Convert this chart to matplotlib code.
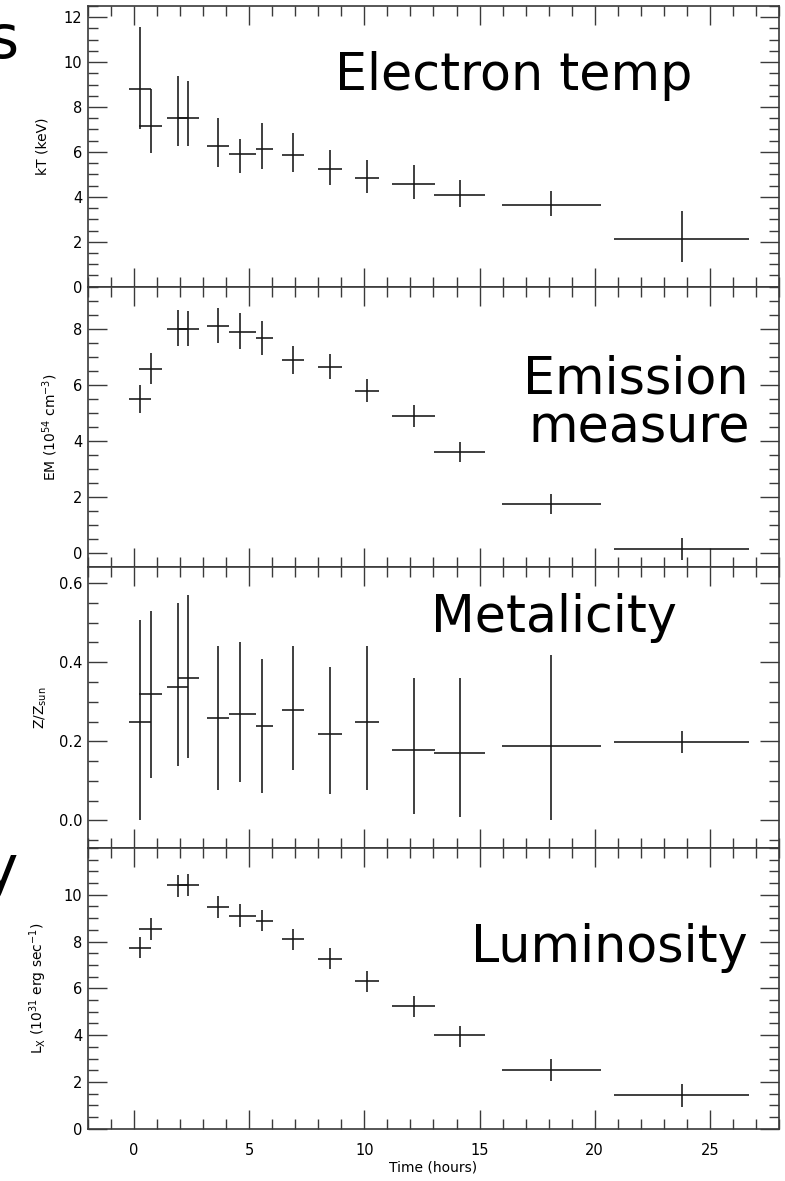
import matplotlib
matplotlib.use("Agg")
import matplotlib.pyplot as plt
from matplotlib.ticker import MultipleLocator, FixedLocator, FormatStrFormatter
import numpy as np

# ---------------- data ----------------
t_center = [0.25, 0.72, 1.89, 2.33, 3.63, 4.59, 5.57, 6.89, 8.51, 10.13, 12.14, 14.14, 18.10, 23.77]
t_lo = [-0.20, 0.23, 1.45, 1.89, 3.15, 4.10, 5.29, 6.41, 7.97, 9.59, 11.21, 13.03, 15.99, 20.82]
t_hi = [0.72, 1.22, 2.33, 2.82, 4.10, 5.29, 6.05, 7.39, 9.01, 10.63, 13.06, 15.25, 20.26, 26.69]

kT = [8.79, 7.16, 7.53, 7.51, 6.27, 5.91, 6.13, 5.87, 5.24, 4.84, 4.59, 4.10, 3.65, 2.12]
kT_lo = [7.02, 5.94, 6.27, 6.27, 5.32, 5.05, 5.23, 5.10, 4.52, 4.19, 3.92, 3.54, 3.14, 1.11]
kT_hi = [11.55, 8.79, 9.37, 9.15, 7.50, 6.58, 7.28, 6.83, 6.10, 5.66, 5.41, 4.74, 4.28, 3.36]

EM = [5.51, 6.55, 8.00, 8.00, 8.10, 7.88, 7.67, 6.88, 6.65, 5.80, 4.90, 3.60, 1.75, 0.15]
EM_lo = [5.00, 6.04, 7.37, 7.39, 7.48, 7.29, 7.07, 6.39, 6.20, 5.40, 4.50, 3.25, 1.40, -0.25]
EM_hi = [6.01, 7.13, 8.67, 8.63, 8.73, 8.55, 8.26, 7.40, 7.10, 6.20, 5.30, 3.95, 2.10, 0.55]

Z = [0.249, 0.320, 0.338, 0.359, 0.259, 0.268, 0.239, 0.278, 0.219, 0.249, 0.178, 0.170, 0.188, 0.198]
Z_lo = [0.000, 0.107, 0.138, 0.158, 0.077, 0.098, 0.068, 0.128, 0.067, 0.077, 0.016, 0.009, 0.000, 0.171]
Z_hi = [0.508, 0.529, 0.549, 0.571, 0.440, 0.450, 0.409, 0.440, 0.389, 0.440, 0.359, 0.359, 0.419, 0.227]

LX = [7.73, 8.54, 10.41, 10.41, 9.48, 9.09, 8.88, 8.09, 7.26, 6.33, 5.26, 3.99, 2.50, 1.42]
LX_lo = [7.29, 8.06, 9.90, 9.93, 9.00, 8.61, 8.44, 7.63, 6.81, 5.85, 4.77, 3.49, 2.04, 0.94]
LX_hi = [8.20, 9.02, 10.83, 10.87, 9.94, 9.59, 9.36, 8.54, 7.72, 6.75, 5.69, 4.41, 2.97, 1.90]

x_ticks = [0, 5, 10, 15, 20, 25]
panel_labels = ["Electron temp", "Emission", "measure", "Metalicity", "Luminosity"]
y_labels = ["kT (keV)", r"EM (10$^{54}$ cm$^{-3}$)", r"Z/Z$_{\rm sun}$",
            r"L$_{\rm X}$ (10$^{31}$ erg sec$^{-1}$)"]

# ---------------- figure ----------------
W, H = 785, 1181
fig = plt.figure(figsize=(W / 100, H / 100), dpi=100)
plt.rcParams['font.family'] = ['DejaVu Sans']
plt.rcParams['mathtext.fontset'] = 'dejavusans'

left_px, right_px = 88, 779
top_px, bot_px = 6, 1128.7
ph = (bot_px - top_px) / 4

panels = [
    (kT, kT_lo, kT_hi, (0, 12.5), [0, 2, 4, 6, 8, 10, 12], 0.5, y_labels[0], -0.056),
    (EM, EM_lo, EM_hi, (-0.5, 9.5), [0, 2, 4, 6, 8], 0.5, y_labels[1], -0.040),
    (Z, Z_lo, Z_hi, (-0.07, 0.64), [0.0, 0.2, 0.4, 0.6], 0.05, y_labels[2], -0.056),
    (LX, LX_lo, LX_hi, (0, 12), [0, 2, 4, 6, 8, 10], 0.5, y_labels[3], -0.056),
]

spine_col = '#3a3a3a'
tc = np.array(t_center)
xerr = [tc - np.array(t_lo), np.array(t_hi) - tc]
for i, (val, lo, hi, ylim, yt, ymin, ylab, lx) in enumerate(panels):
    ax = fig.add_axes([left_px / W, 1 - (top_px + (i + 1) * ph) / H,
                       (right_px - left_px) / W, ph / H])
    val = np.array(val); lo = np.array(lo); hi = np.array(hi)
    yerr = [val - lo, hi - val]
    ax.errorbar(tc, val, xerr=xerr, yerr=yerr, fmt='none', ecolor='#151515',
                elinewidth=1.15, capsize=0)
    ax.set_xlim(-2, 28)
    ax.set_ylim(*ylim)
    ax.xaxis.set_major_locator(FixedLocator(x_ticks))
    ax.xaxis.set_minor_locator(MultipleLocator(1))
    ax.yaxis.set_major_locator(FixedLocator(yt))
    ax.yaxis.set_minor_locator(MultipleLocator(ymin))
    ax.tick_params(which='both', direction='in', top=True, right=True,
                   color=spine_col, width=1.0)
    ax.tick_params(which='major', length=14)
    ax.tick_params(which='minor', length=7)
    ax.tick_params(axis='y', labelsize=10.5, pad=4)
    if i == 2:
        ax.yaxis.set_major_formatter(FormatStrFormatter('%.1f'))
    for s in ax.spines.values():
        s.set_color(spine_col)
        s.set_linewidth(1.2)
    ax.set_ylabel(ylab, fontsize=10)
    ax.yaxis.set_label_coords(lx, 0.5)
    if i < 3:
        ax.tick_params(axis='x', labelbottom=False)
    else:
        ax.tick_params(axis='x', labelsize=10.5, pad=10)
        ax.set_xlabel("Time (hours)", fontsize=10, labelpad=2)

def px(x, y):
    return x / W, 1 - y / H

big = 36.5
fig.text(*px(335, 90), panel_labels[0], fontsize=big, ha='left', va='baseline')
fig.text(*px(749, 394), panel_labels[1], fontsize=big, ha='right', va='baseline')
fig.text(*px(750, 441), panel_labels[2], fontsize=big, ha='right', va='baseline')
fig.text(*px(431, 631.7), panel_labels[3], fontsize=big, ha='left', va='baseline')
fig.text(*px(471, 961.7), panel_labels[4], fontsize=big, ha='left', va='baseline')

# clipped fragments of slide text at the left edge (cut off in the original too)
fig.text(*px(19, 58), "s", fontsize=43, ha='right', va='baseline')
fig.text(*px(18, 888), "y", fontsize=43, ha='right', va='baseline')

fig.savefig("out.png", dpi=100)
